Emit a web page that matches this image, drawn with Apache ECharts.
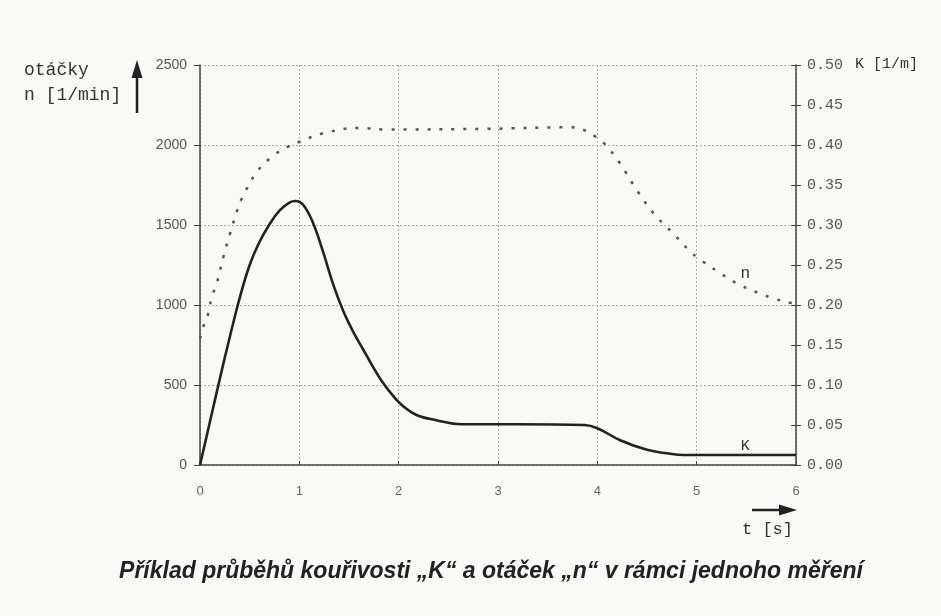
<!DOCTYPE html>
<html><head><meta charset="utf-8">
<script src="https://cdn.jsdelivr.net/npm/echarts@6/dist/echarts.min.js"></script>
<style>html,body{margin:0;padding:0;background:#f9f9f7}#c{width:941px;height:616px}</style>
</head><body><div id="c"></div>
<script>
// time axis ticks
const tTicks = ['0','1','2','3','4','5','6'];
// K curve (kouřivost, 1/m) – right axis
const kTime   = [0, 0.1, 0.2, 0.3, 0.4, 0.5, 0.6, 0.7, 0.8, 0.9, 0.96, 1.04, 1.14, 1.24, 1.34, 1.44, 1.54, 1.64, 1.74, 1.84, 1.94, 2.04, 2.18, 2.38, 2.63, 3.2, 3.87, 4.0, 4.23, 4.5, 4.7, 4.87, 5.5, 6.0];
const kValues = [0, 0.054, 0.108, 0.160, 0.209, 0.250, 0.279, 0.301, 0.318, 0.328, 0.330, 0.325, 0.302, 0.266, 0.226, 0.193, 0.167, 0.145, 0.123, 0.103, 0.087, 0.074, 0.0625, 0.056, 0.051, 0.051, 0.050, 0.046, 0.031, 0.019, 0.0146, 0.0125, 0.0125, 0.0125];
// n curve (otáčky, 1/min) – left axis
const nTime   = [0, 0.044, 0.084, 0.118, 0.168, 0.235, 0.302, 0.38, 0.42, 0.57, 0.74, 0.875, 0.99, 1.245, 1.61, 1.85, 2.89, 3.73, 3.85, 3.98, 4.08, 4.23, 4.4, 4.57, 4.75, 4.94, 5.0, 5.22, 5.44, 5.64, 5.78, 5.9, 6.0];
const nValues = [790, 884, 947, 1050, 1134, 1300, 1446, 1602, 1664, 1830, 1934, 1986, 2017, 2074, 2107, 2097, 2101, 2111, 2097, 2053, 2003, 1883, 1716, 1570, 1456, 1331, 1300, 1206, 1123, 1071, 1040, 1019, 1010];
// axis ranges
const nAxis = {min: 0, max: 2500, interval: 500};
const kAxis = {min: 0, max: 0.5, interval: 0.05};

const kData = kTime.map((t, i) => [t, kValues[i]]);
const nData = nTime.map((t, i) => [t, nValues[i]]);

const chart = echarts.init(document.getElementById('c'));
const mono = 'Liberation Mono';
const axisDark = '#444';
chart.setOption({
  backgroundColor: '#f9f9f7',
  animation: false,
  grid: {left: 200, right: 145, top: 65, bottom: 151},
  xAxis: {
    type: 'value', min: 0, max: 6, interval: 1,
    axisLine: {lineStyle: {color: axisDark, width: 1.5}},
    axisTick: {show: true, inside: true, length: 4, lineStyle: {color: axisDark}},
    axisLabel: {color: '#666', fontFamily: 'Liberation Sans', fontSize: 13, margin: 20,
      formatter: v => tTicks[Math.round(v)]},
    splitLine: {show: true, lineStyle: {color: '#aaa', type: [2, 2], width: 1}}
  },
  yAxis: [
    {type: 'value', position: 'left', min: nAxis.min, max: nAxis.max, interval: nAxis.interval,
      axisLine: {show: true, lineStyle: {color: axisDark, width: 1.5}},
      axisTick: {show: true, length: 6, lineStyle: {color: axisDark}},
      axisLabel: {color: '#555', fontFamily: 'Liberation Sans', fontSize: 14, margin: 13,
        formatter: v => String(v)},
      splitLine: {show: true, lineStyle: {color: '#aaa', type: [2, 2], width: 1}}},
    {type: 'value', position: 'right', min: kAxis.min, max: kAxis.max, interval: kAxis.interval,
      axisLine: {show: true, lineStyle: {color: axisDark, width: 1.5}},
      axisTick: {show: true, length: 5, lineStyle: {color: axisDark}},
      axisLabel: {color: '#555', fontFamily: mono, fontSize: 15, margin: 11,
        formatter: v => v.toFixed(2)},
      splitLine: {show: false}},
    {type: 'value', position: 'right', min: kAxis.min, max: kAxis.max, interval: kAxis.interval,
      axisLine: {show: false},
      axisTick: {show: true, inside: true, length: 5, lineStyle: {color: axisDark}},
      axisLabel: {show: false}, splitLine: {show: false}}
  ],
  series: [
    {name: 'n', type: 'line', yAxisIndex: 0, data: nData, smooth: 0.4, symbol: 'none',
      lineStyle: {color: '#555', width: 2.5, type: [3, 9]},
      markPoint: {symbol: 'circle', symbolSize: 0, silent: true,
        data: [{coord: [5.49, 1198]}],
        label: {show: true, position: 'inside', formatter: 'n', color: '#333', fontFamily: mono, fontSize: 16}}},
    {name: 'K', type: 'line', yAxisIndex: 1, data: kData, smooth: 0.4, symbol: 'none',
      lineStyle: {color: '#222', width: 2.6},
      markPoint: {symbol: 'circle', symbolSize: 0, silent: true,
        data: [{coord: [5.49, 0.0238]}],
        label: {show: true, position: 'inside', formatter: 'K', color: '#333', fontFamily: mono, fontSize: 15}}}
  ],
  graphic: [
    {type: 'text', left: 24, top: 58, style: {text: 'otáčky\nn [1/min]', font: '18px "Liberation Mono"', fill: '#333', lineHeight: 25}},
    {type: 'line', shape: {x1: 137, y1: 113, x2: 137, y2: 75}, style: {stroke: '#222', lineWidth: 2.5}},
    {type: 'polygon', shape: {points: [[137, 60], [131.5, 78], [142.5, 78]]}, style: {fill: '#222'}},
    {type: 'text', left: 855, top: 57, style: {text: 'K [1/m]', font: '15px "Liberation Mono"', fill: '#333'}},
    {type: 'line', shape: {x1: 752, y1: 510, x2: 782, y2: 510}, style: {stroke: '#222', lineWidth: 2.5}},
    {type: 'polygon', shape: {points: [[797, 510], [779, 504.5], [779, 515.5]]}, style: {fill: '#222'}},
    {type: 'text', left: 742, top: 521, style: {text: 't [s]', font: '17px "Liberation Mono"', fill: '#333'}},
    {type: 'text', x: 491, y: 572, style: {text: 'Příklad průběhů kouřivosti „K“ a otáček „n“ v rámci jednoho měření',
      font: 'italic bold 23px "Liberation Sans"', fill: '#222', align: 'center', verticalAlign: 'middle'}}
  ]
});
</script></body></html>
